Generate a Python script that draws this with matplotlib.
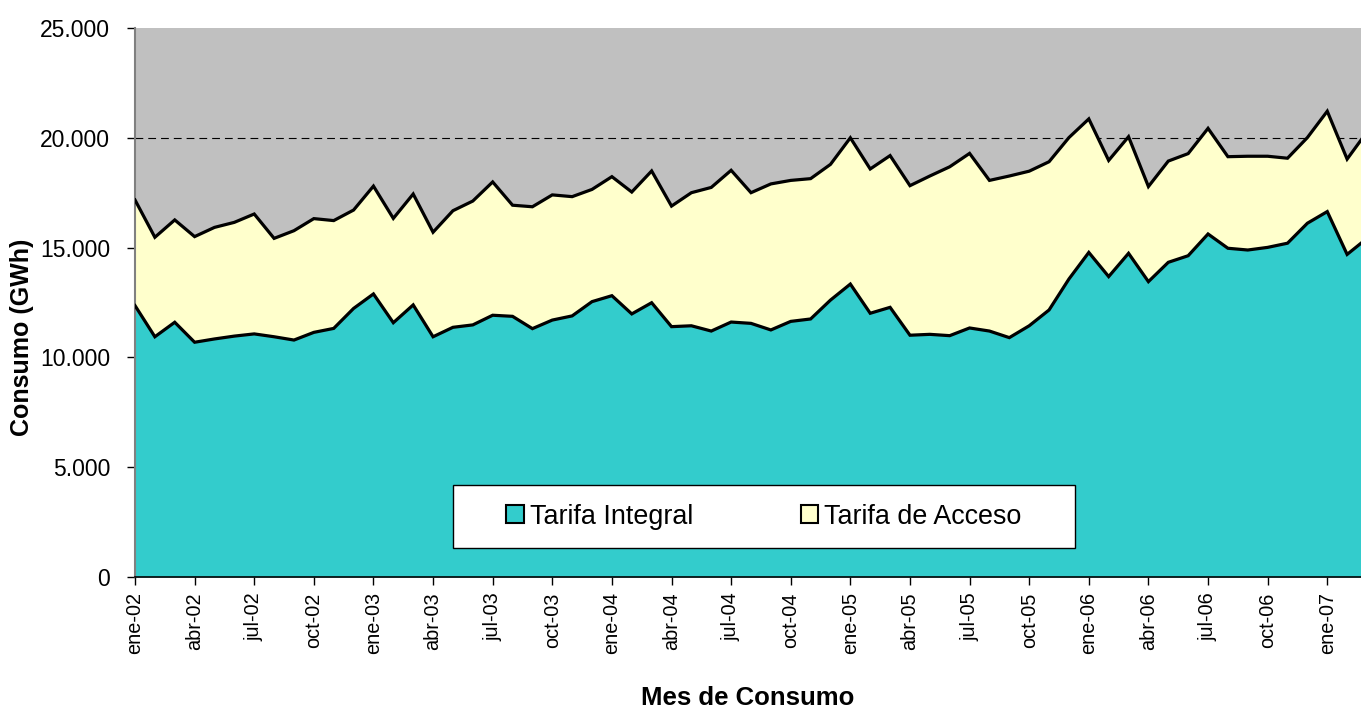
import matplotlib
matplotlib.use("Agg")
import numpy as np
import matplotlib.pyplot as plt
from matplotlib.patches import Patch, Rectangle

# monthly consumption (GWh), ene-02 .. mar-07
integral = [12360, 10940, 11600, 10690, 10840, 10970, 11070, 10940, 10790, 11140, 11320, 12230,
            12890, 11580, 12390, 10940, 11370, 11480, 11920, 11870, 11310, 11700, 11890, 12540,
            12810, 11980, 12490, 11400, 11440, 11200, 11610, 11550, 11250, 11640, 11750, 12610,
            13340, 12010, 12280, 11010, 11050, 10990, 11340, 11200, 10900, 11440, 12160, 13570,
            14780, 13680, 14740, 13450, 14330, 14630, 15620, 14970, 14890, 15010, 15200, 16110,
            16640, 14690, 15420]
acceso = [4810, 4530, 4660, 4810, 5080, 5180, 5460, 4480, 4980, 5180, 4910, 4480,
          4910, 4750, 5050, 4760, 5310, 5640, 6070, 5060, 5550, 5700, 5430, 5110,
          5420, 5550, 6000, 5490, 6060, 6540, 6910, 5950, 6650, 6420, 6390, 6180,
          6660, 6570, 6910, 6810, 7210, 7690, 7950, 6860, 7360, 7040, 6750, 6440,
          6080, 5290, 5310, 4330, 4610, 4650, 4810, 4170, 4270, 4150, 3870, 3900,
          4570, 4340, 4850]
tick_labels = ["ene-02", "abr-02", "jul-02", "oct-02", "ene-03", "abr-03", "jul-03", "oct-03",
               "ene-04", "abr-04", "jul-04", "oct-04", "ene-05", "abr-05", "jul-05", "oct-05",
               "ene-06", "abr-06", "jul-06", "oct-06", "ene-07"]
y_ticks = [0, 5000, 10000, 15000, 20000, 25000]
y_labels = ["0", "5.000", "10.000", "15.000", "20.000", "25.000"]

plt.rcParams["font.family"] = ["Liberation Sans", "DejaVu Sans"]

W, H = 1361, 709
fig = plt.figure(figsize=(W / 100, H / 100), dpi=100)
# plot area runs past the right edge of the picture (last month is clipped)
ax = fig.add_axes([135 / W, (H - 577) / H, (1367 - 135) / W, (577 - 28) / H])
ax.set_facecolor("#C0C0C0")

x = np.arange(len(integral))
low = np.array(integral)
top = low + np.array(acceso)

ax.axhline(20000, color="black", ls=(0, (7, 4.5)), lw=0.8, zorder=1)
ax.fill_between(x, 0, low, color="#33CCCC", lw=0, zorder=2)
ax.fill_between(x, low, top, color="#FFFFCC", lw=0, zorder=2)
ax.plot(x, low, color="black", lw=2.3, zorder=3, solid_joinstyle="miter")
ax.plot(x, top, color="black", lw=2.3, zorder=3, solid_joinstyle="miter")

ax.set_xlim(0, len(integral) - 1)
ax.set_ylim(0, 25000)
ax.set_yticks(y_ticks)
ax.set_yticklabels(y_labels)
ax.set_xticks(np.arange(0, 3 * len(tick_labels), 3))
ax.set_xticklabels(tick_labels, rotation=90)
ax.tick_params(axis="both", direction="out", length=6, width=1, color="black")
ax.tick_params(axis="x", labelsize=14.3, pad=5)
ax.tick_params(axis="y", labelsize=16.5, pad=12)

for s in ["top", "right"]:
    ax.spines[s].set_visible(False)
ax.spines["left"].set_color("#808080")
ax.spines["left"].set_linewidth(1.5)
ax.spines["bottom"].set_color("black")
ax.spines["bottom"].set_linewidth(1.2)

# axis titles placed where the reference has them
fig.text(22 / W, 1 - 337 / H, "Consumo (GWh)", rotation=90, ha="center", va="center",
         fontsize=18, fontweight="bold")
fig.text(748 / W, 1 - 705 / H, "Mes de Consumo", ha="center", va="baseline",
         fontsize=18.5, fontweight="bold")

# legend box
x0 = (453 - 135) / 1232
x1 = (1075 - 135) / 1232
y0 = (577 - 548) / 549
y1 = (577 - 485) / 549
ax.add_patch(Rectangle((x0, y0), x1 - x0, y1 - y0, transform=ax.transAxes,
                       facecolor="white", edgecolor="black", lw=1, zorder=5))
handles = [Patch(facecolor="#33CCCC", edgecolor="black", lw=1.5, label="Tarifa Integral"),
           Patch(facecolor="#FFFFCC", edgecolor="black", lw=1.5, label="Tarifa de Acceso")]
leg = ax.legend(handles=handles, loc="center", bbox_to_anchor=((x0 + x1) / 2, (y0 + y1) / 2),
                ncol=2, frameon=False, fontsize=19.4, handlelength=0.65, handleheight=0.65,
                handletextpad=0.22, columnspacing=4.0, borderpad=0)
leg.set_zorder(6)

fig.savefig("out.png", dpi=100)
